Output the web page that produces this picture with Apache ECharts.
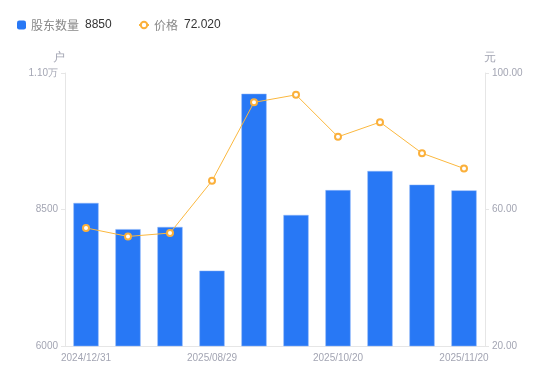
<!DOCTYPE html>
<html><head><meta charset="utf-8">
<script src="https://cdn.jsdelivr.net/npm/echarts@6/dist/echarts.min.js"></script>
<style>html,body{margin:0;padding:0;background:#fff}#c{width:550px;height:381px}</style>
</head><body><div id="c"></div>
<script>
var categories = ['2024/12/31','2025/03/31','2025/06/30','2025/08/29','2025/09/10','2025/09/30','2025/10/20','2025/10/31','2025/11/10','2025/11/20'];
var holders = [8620, 8140, 8180, 7380, 10620, 8400, 8855, 9205, 8955, 8850];
var prices = [54.6, 52.1, 53.1, 68.4, 91.4, 93.6, 81.3, 85.6, 76.5, 72.02];
var holderLabel = '8850';
var priceLabel = '72.020';

var chart = echarts.init(document.getElementById('c'));
var lab = '#a3a5b3';
var legendText = { rich: { n:{color:'#888', fontSize:12, fontFamily:'Noto Sans CJK SC'}, v:{color:'#333', fontSize:12, fontFamily:'Liberation Sans', padding:[0,0,0,6]} } };
chart.setOption({
  animation: false,
  legend: [{
    left: 12, top: 14, itemWidth: 9, itemHeight: 9,
    data: [{name:'股东数量', icon:'roundRect', itemStyle:{borderWidth:0}}],
    formatter: function(n){ return '{n|' + n + '}{v|' + holderLabel + '}'; },
    textStyle: legendText
  }, {
    left: 133, top: 14, itemWidth: 10, itemHeight: 8,
    data: [{name:'价格'}],
    formatter: function(n){ return '{n|' + n + '}{v|' + priceLabel + '}'; },
    textStyle: legendText
  }],
  grid: { left: 65, right: 65, top: 73, bottom: 35 },
  xAxis: {
    type: 'category', data: categories,
    axisLine: { lineStyle: { color: '#e6e6e6' } },
    axisTick: { show: false },
    axisLabel: { interval: 2, color: lab, fontSize: 10, margin: 7, fontFamily:'Liberation Sans' }
  },
  yAxis: [{
    type: 'value', name: '户', min: 6000, max: 11000, interval: 2500,
    nameTextStyle: { color: lab, fontSize: 12, padding: [0, 12, 0, 0] },
    nameGap: 9,
    axisLine: { show: true, lineStyle: { color: '#e6e6e6' } },
    axisTick: { show: true, length: 4, lineStyle: { color: '#e6e6e6' } },
    splitLine: { show: false },
    axisLabel: { color: lab, fontSize: 10, margin: 7, fontFamily:'Liberation Sans',
      formatter: function(v){ return v >= 10000 ? (v/10000).toFixed(2) + '万' : String(v); } }
  }, {
    type: 'value', name: '元', min: 20, max: 100, interval: 40,
    nameTextStyle: { color: lab, fontSize: 12, padding: [0, 0, 0, 10] },
    nameGap: 9,
    axisLine: { show: true, lineStyle: { color: '#e6e6e6' } },
    axisTick: { show: true, length: 4, lineStyle: { color: '#e6e6e6' } },
    splitLine: { show: false },
    axisLabel: { color: lab, fontSize: 10, margin: 7, fontFamily:'Liberation Sans',
      formatter: function(v){ return v.toFixed(2); } }
  }],
  series: [{
    name: '股东数量', type: 'bar', data: holders, barWidth: '60%',
    itemStyle: { color: '#2878f5', borderColor: '#8fb6f8', borderWidth: 0.5 }
  }, {
    name: '价格', type: 'line', yAxisIndex: 1, data: prices,
    symbol: 'emptyCircle', symbolSize: 6,
    lineStyle: { color: '#fbb83f', width: 1 },
    itemStyle: { color: '#fbb03b', borderWidth: 2 }
  }]
});
</script></body></html>
